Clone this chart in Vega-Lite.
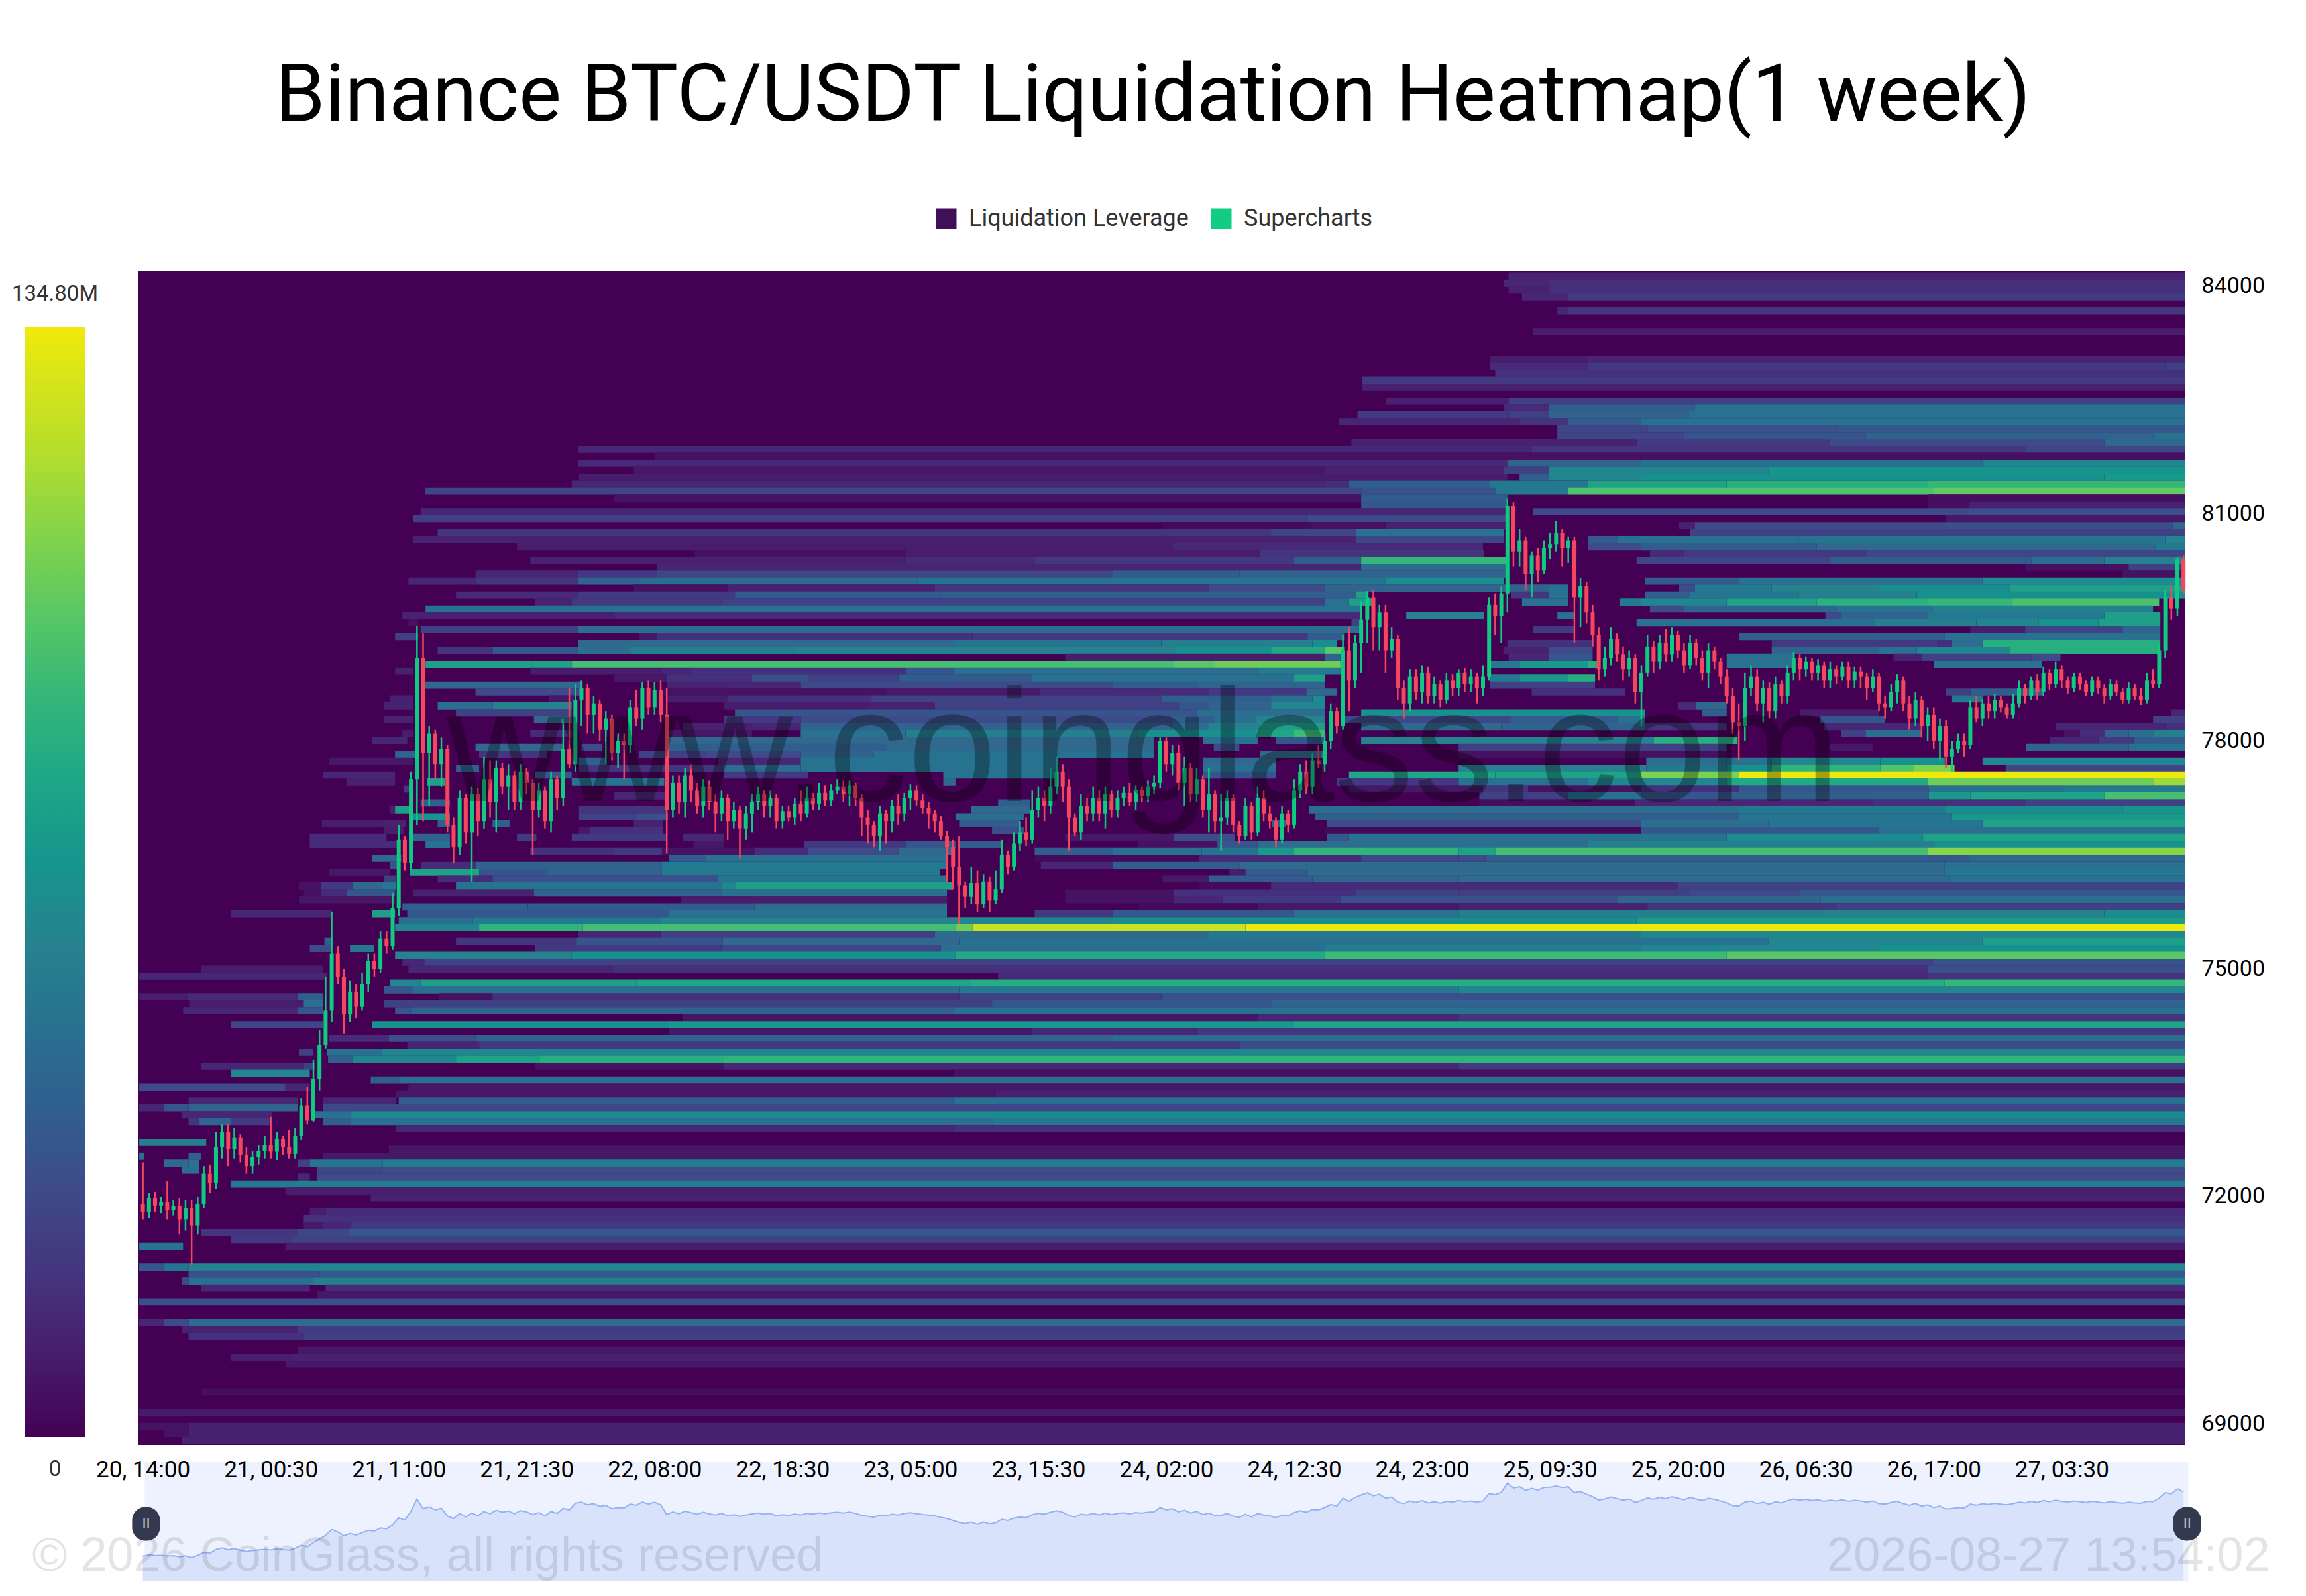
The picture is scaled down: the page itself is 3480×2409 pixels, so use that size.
{"$schema":"https://vega.github.io/schema/vega-lite/v5.json","background":"white","padding":{"left":38,"top":85,"right":0,"bottom":0},"title":{"text":"Binance BTC/USDT Liquidation Heatmap(1 week)","font":"Roboto","fontWeight":"normal","fontSize":121,"color":"#000","offset":105,"anchor":"middle","dx":8},"spacing":20,"config":{"view":{"stroke":null},"font":"Roboto"},
"datasets":{"candles":[
{"t":0,"o":71900,"h":72450,"l":71700,"c":71800},{"t":0.5,"o":71800,"h":72050,"l":71720,"c":71980},{"t":1,"o":71980,"h":72060,"l":71800,"c":71880},{"t":1.5,"o":71880,"h":72000,"l":71780,"c":71920},{"t":2,"o":71920,"h":72200,"l":71700,"c":71820},{"t":2.5,"o":71820,"h":71950,"l":71750,"c":71870},{"t":3,"o":71870,"h":71980,"l":71500,"c":71700},{"t":3.5,"o":71700,"h":71950,"l":71550,"c":71850},{"t":4,"o":71850,"h":71950,"l":71100,"c":71620},{"t":4.5,"o":71620,"h":72000,"l":71500,"c":71900},{"t":5,"o":71900,"h":72400,"l":71850,"c":72300},{"t":5.5,"o":72300,"h":72420,"l":72050,"c":72180},{"t":6,"o":72180,"h":72850,"l":72100,"c":72650},{"t":6.5,"o":72650,"h":72950,"l":72500,"c":72850},{"t":7,"o":72850,"h":72950,"l":72400,"c":72620},{"t":7.5,"o":72620,"h":72900,"l":72500,"c":72780},{"t":8,"o":72780,"h":72820,"l":72450,"c":72550},{"t":8.5,"o":72550,"h":72650,"l":72300,"c":72400},{"t":9,"o":72400,"h":72600,"l":72300,"c":72520},{"t":9.5,"o":72520,"h":72680,"l":72420,"c":72600},{"t":10,"o":72600,"h":72800,"l":72500,"c":72680},{"t":10.5,"o":72680,"h":73050,"l":72500,"c":72590},{"t":11,"o":72590,"h":72850,"l":72480,"c":72760},{"t":11.5,"o":72760,"h":72800,"l":72550,"c":72650},{"t":12,"o":72650,"h":72880,"l":72500,"c":72560},{"t":12.5,"o":72560,"h":72900,"l":72500,"c":72800},{"t":13,"o":72800,"h":73300,"l":72750,"c":73200},{"t":13.5,"o":73200,"h":73450,"l":72950,"c":73000},{"t":14,"o":73000,"h":73800,"l":72980,"c":73550},{"t":14.5,"o":73550,"h":74200,"l":73400,"c":74000},{"t":15,"o":74000,"h":74900,"l":73950,"c":74450},{"t":15.5,"o":74450,"h":75750,"l":74300,"c":75200},{"t":16,"o":75200,"h":75300,"l":74800,"c":74900},{"t":16.5,"o":74900,"h":75000,"l":74150,"c":74400},{"t":17,"o":74400,"h":74850,"l":74300,"c":74700},{"t":17.5,"o":74700,"h":74800,"l":74350,"c":74500},{"t":18,"o":74500,"h":74950,"l":74450,"c":74800},{"t":18.5,"o":74800,"h":75200,"l":74700,"c":75100},{"t":19,"o":75100,"h":75200,"l":74900,"c":75000},{"t":19.5,"o":75000,"h":75500,"l":74950,"c":75400},{"t":20,"o":75400,"h":75500,"l":75200,"c":75300},{"t":20.5,"o":75300,"h":76000,"l":75250,"c":75800},{"t":21,"o":75800,"h":76900,"l":75700,"c":76700},{"t":21.5,"o":76700,"h":76750,"l":76300,"c":76400},{"t":22,"o":76400,"h":77600,"l":76300,"c":77500},{"t":22.5,"o":77500,"h":79520,"l":76900,"c":79100},{"t":23,"o":79100,"h":79420,"l":76950,"c":77850},{"t":23.5,"o":77850,"h":78200,"l":77150,"c":78100},{"t":24,"o":78100,"h":78150,"l":77500,"c":77700},{"t":24.5,"o":77700,"h":78050,"l":77400,"c":77900},{"t":25,"o":77900,"h":77950,"l":76800,"c":76900},{"t":25.5,"o":76900,"h":77000,"l":76400,"c":76600},{"t":26,"o":76600,"h":77350,"l":76500,"c":77250},{"t":26.5,"o":77250,"h":77300,"l":76650,"c":76800},{"t":27,"o":76800,"h":77400,"l":76150,"c":77300},{"t":27.5,"o":77300,"h":77380,"l":76750,"c":76950},{"t":28,"o":76950,"h":77800,"l":76850,"c":77500},{"t":28.5,"o":77500,"h":77750,"l":77000,"c":77200},{"t":29,"o":77200,"h":77750,"l":76800,"c":77650},{"t":29.5,"o":77650,"h":77720,"l":77300,"c":77400},{"t":30,"o":77400,"h":77700,"l":77100,"c":77550},{"t":30.5,"o":77550,"h":77620,"l":77100,"c":77200},{"t":31,"o":77200,"h":77700,"l":77100,"c":77600},{"t":31.5,"o":77600,"h":77650,"l":77300,"c":77450},{"t":32,"o":77450,"h":77500,"l":76500,"c":77100},{"t":32.5,"o":77100,"h":77450,"l":77000,"c":77350},{"t":33,"o":77350,"h":77400,"l":76850,"c":76950},{"t":33.5,"o":76950,"h":77600,"l":76800,"c":77500},{"t":34,"o":77500,"h":77550,"l":77100,"c":77250},{"t":34.5,"o":77250,"h":78300,"l":77150,"c":77900},{"t":35,"o":77900,"h":78700,"l":77650,"c":77700},{"t":35.5,"o":77700,"h":78750,"l":77600,"c":78550},{"t":36,"o":78550,"h":78800,"l":78200,"c":78700},{"t":36.5,"o":78700,"h":78750,"l":78100,"c":78350},{"t":37,"o":78350,"h":78600,"l":78100,"c":78500},{"t":37.5,"o":78500,"h":78550,"l":78000,"c":78150},{"t":38,"o":78150,"h":78400,"l":77700,"c":78300},{"t":38.5,"o":78300,"h":78350,"l":77750,"c":77850},{"t":39,"o":77850,"h":78100,"l":77650,"c":78000},{"t":39.5,"o":78000,"h":78100,"l":77500,"c":77950},{"t":40,"o":77950,"h":78550,"l":77850,"c":78450},{"t":40.5,"o":78450,"h":78680,"l":78200,"c":78300},{"t":41,"o":78300,"h":78780,"l":78150,"c":78700},{"t":41.5,"o":78700,"h":78800,"l":78350,"c":78450},{"t":42,"o":78450,"h":78780,"l":78350,"c":78680},{"t":42.5,"o":78680,"h":78800,"l":78250,"c":78350},{"t":43,"o":78350,"h":78700,"l":76520,"c":77100},{"t":43.5,"o":77100,"h":77550,"l":77000,"c":77450},{"t":44,"o":77450,"h":77550,"l":77050,"c":77200},{"t":44.5,"o":77200,"h":77650,"l":77000,"c":77550},{"t":45,"o":77550,"h":77700,"l":77200,"c":77350},{"t":45.5,"o":77350,"h":77450,"l":77050,"c":77150},{"t":46,"o":77150,"h":77500,"l":77000,"c":77400},{"t":46.5,"o":77400,"h":77480,"l":77100,"c":77200},{"t":47,"o":77200,"h":77300,"l":76800,"c":77050},{"t":47.5,"o":77050,"h":77350,"l":76950,"c":77250},{"t":48,"o":77250,"h":77300,"l":76700,"c":76950},{"t":48.5,"o":76950,"h":77200,"l":76850,"c":77100},{"t":49,"o":77100,"h":77150,"l":76450,"c":76850},{"t":49.5,"o":76850,"h":77150,"l":76700,"c":77050},{"t":50,"o":77050,"h":77300,"l":76800,"c":77200},{"t":50.5,"o":77200,"h":77400,"l":77100,"c":77300},{"t":51,"o":77300,"h":77350,"l":77000,"c":77150},{"t":51.5,"o":77150,"h":77350,"l":77000,"c":77250},{"t":52,"o":77250,"h":77300,"l":76850,"c":76950},{"t":52.5,"o":76950,"h":77150,"l":76850,"c":77080},{"t":53,"o":77080,"h":77150,"l":76950,"c":77000},{"t":53.5,"o":77000,"h":77250,"l":76900,"c":77180},{"t":54,"o":77180,"h":77350,"l":76950,"c":77050},{"t":54.5,"o":77050,"h":77400,"l":77000,"c":77250},{"t":55,"o":77250,"h":77320,"l":77100,"c":77180},{"t":55.5,"o":77180,"h":77450,"l":77100,"c":77320},{"t":56,"o":77320,"h":77420,"l":77150,"c":77220},{"t":56.5,"o":77220,"h":77430,"l":77150,"c":77350},{"t":57,"o":77350,"h":77500,"l":77300,"c":77400},{"t":57.5,"o":77400,"h":77480,"l":77200,"c":77300},{"t":58,"o":77300,"h":77480,"l":77150,"c":77420},{"t":58.5,"o":77420,"h":77450,"l":77150,"c":77250},{"t":59,"o":77250,"h":77300,"l":76750,"c":77000},{"t":59.5,"o":77000,"h":77100,"l":76650,"c":76900},{"t":60,"o":76900,"h":76950,"l":76600,"c":76750},{"t":60.5,"o":76750,"h":77150,"l":76550,"c":77050},{"t":61,"o":77050,"h":77100,"l":76650,"c":76950},{"t":61.5,"o":76950,"h":77230,"l":76800,"c":77150},{"t":62,"o":77150,"h":77300,"l":76900,"c":77050},{"t":62.5,"o":77050,"h":77320,"l":76950,"c":77250},{"t":63,"o":77250,"h":77430,"l":77100,"c":77350},{"t":63.5,"o":77350,"h":77420,"l":77150,"c":77220},{"t":64,"o":77220,"h":77300,"l":77050,"c":77120},{"t":64.5,"o":77120,"h":77200,"l":76850,"c":77050},{"t":65,"o":77050,"h":77100,"l":76800,"c":76950},{"t":65.5,"o":76950,"h":77020,"l":76700,"c":76750},{"t":66,"o":76750,"h":76820,"l":76150,"c":76600},{"t":66.5,"o":76600,"h":76700,"l":76050,"c":76350},{"t":67,"o":76350,"h":76750,"l":75590,"c":76100},{"t":67.5,"o":76100,"h":76150,"l":75800,"c":75950},{"t":68,"o":75950,"h":76350,"l":75850,"c":76130},{"t":68.5,"o":76130,"h":76300,"l":75750,"c":75850},{"t":69,"o":75850,"h":76250,"l":75800,"c":76150},{"t":69.5,"o":76150,"h":76220,"l":75750,"c":75900},{"t":70,"o":75900,"h":76300,"l":75850,"c":76050},{"t":70.5,"o":76050,"h":76700,"l":76000,"c":76500},{"t":71,"o":76500,"h":76560,"l":76250,"c":76350},{"t":71.5,"o":76350,"h":76800,"l":76300,"c":76650},{"t":72,"o":76650,"h":76950,"l":76550,"c":76800},{"t":72.5,"o":76800,"h":77000,"l":76620,"c":76700},{"t":73,"o":76700,"h":77350,"l":76650,"c":77100},{"t":73.5,"o":77100,"h":77400,"l":77000,"c":77250},{"t":74,"o":77250,"h":77350,"l":76950,"c":77150},{"t":74.5,"o":77150,"h":77650,"l":77050,"c":77400},{"t":75,"o":77400,"h":77800,"l":77300,"c":77600},{"t":75.5,"o":77600,"h":77700,"l":77200,"c":77400},{"t":76,"o":77400,"h":77500,"l":76550,"c":77000},{"t":76.5,"o":77000,"h":77050,"l":76750,"c":76800},{"t":77,"o":76800,"h":77300,"l":76700,"c":77150},{"t":77.5,"o":77150,"h":77250,"l":76950,"c":77050},{"t":78,"o":77050,"h":77400,"l":76950,"c":77250},{"t":78.5,"o":77250,"h":77350,"l":76950,"c":77050},{"t":79,"o":77050,"h":77400,"l":76850,"c":77300},{"t":79.5,"o":77300,"h":77350,"l":77000,"c":77100},{"t":80,"o":77100,"h":77350,"l":77000,"c":77250},{"t":80.5,"o":77250,"h":77400,"l":77150,"c":77320},{"t":81,"o":77320,"h":77450,"l":77150,"c":77200},{"t":81.5,"o":77200,"h":77420,"l":77100,"c":77360},{"t":82,"o":77360,"h":77400,"l":77200,"c":77280},{"t":82.5,"o":77280,"h":77480,"l":77200,"c":77400},{"t":83,"o":77400,"h":77550,"l":77300,"c":77450},{"t":83.5,"o":77450,"h":78050,"l":77380,"c":78000},{"t":84,"o":78000,"h":78050,"l":77600,"c":77700},{"t":84.5,"o":77700,"h":77950,"l":77550,"c":77850},{"t":85,"o":77850,"h":77950,"l":77350,"c":77450},{"t":85.5,"o":77450,"h":77800,"l":77150,"c":77650},{"t":86,"o":77650,"h":77720,"l":77200,"c":77300},{"t":86.5,"o":77300,"h":77650,"l":77200,"c":77500},{"t":87,"o":77500,"h":77550,"l":77000,"c":77100},{"t":87.5,"o":77100,"h":77650,"l":76800,"c":77300},{"t":88,"o":77300,"h":77350,"l":76800,"c":76950},{"t":88.5,"o":76950,"h":77300,"l":76550,"c":77000},{"t":89,"o":77000,"h":77350,"l":76900,"c":77250},{"t":89.5,"o":77250,"h":77300,"l":76800,"c":76900},{"t":90,"o":76900,"h":76950,"l":76650,"c":76750},{"t":90.5,"o":76750,"h":77250,"l":76700,"c":77150},{"t":91,"o":77150,"h":77200,"l":76700,"c":76800},{"t":91.5,"o":76800,"h":77400,"l":76750,"c":77250},{"t":92,"o":77250,"h":77350,"l":76950,"c":77050},{"t":92.5,"o":77050,"h":77150,"l":76850,"c":76950},{"t":93,"o":76950,"h":77000,"l":76600,"c":76700},{"t":93.5,"o":76700,"h":77150,"l":76650,"c":77050},{"t":94,"o":77050,"h":77100,"l":76800,"c":76900},{"t":94.5,"o":76900,"h":77500,"l":76850,"c":77350},{"t":95,"o":77350,"h":77700,"l":77250,"c":77600},{"t":95.5,"o":77600,"h":77750,"l":77300,"c":77400},{"t":96,"o":77400,"h":77850,"l":77300,"c":77750},{"t":96.5,"o":77750,"h":77950,"l":77650,"c":77700},{"t":97,"o":77700,"h":78100,"l":77600,"c":78000},{"t":97.5,"o":78000,"h":78500,"l":77900,"c":78400},{"t":98,"o":78400,"h":78450,"l":78100,"c":78200},{"t":98.5,"o":78200,"h":79400,"l":78150,"c":79200},{"t":99,"o":79200,"h":79500,"l":78400,"c":78800},{"t":99.5,"o":78800,"h":79400,"l":78700,"c":79300},{"t":100,"o":79300,"h":79850,"l":78900,"c":79600},{"t":100.5,"o":79600,"h":79980,"l":79300,"c":79900},{"t":101,"o":79900,"h":80000,"l":79200,"c":79500},{"t":101.5,"o":79500,"h":79800,"l":79200,"c":79700},{"t":102,"o":79700,"h":79800,"l":78900,"c":79200},{"t":102.5,"o":79200,"h":79500,"l":79100,"c":79350},{"t":103,"o":79350,"h":79400,"l":78550,"c":78700},{"t":103.5,"o":78700,"h":78800,"l":78300,"c":78500},{"t":104,"o":78500,"h":78950,"l":78400,"c":78850},{"t":104.5,"o":78850,"h":78950,"l":78550,"c":78650},{"t":105,"o":78650,"h":79000,"l":78500,"c":78900},{"t":105.5,"o":78900,"h":78980,"l":78500,"c":78600},{"t":106,"o":78600,"h":78850,"l":78500,"c":78750},{"t":106.5,"o":78750,"h":78800,"l":78450,"c":78550},{"t":107,"o":78550,"h":78900,"l":78500,"c":78800},{"t":107.5,"o":78800,"h":78880,"l":78600,"c":78700},{"t":108,"o":78700,"h":78950,"l":78600,"c":78900},{"t":108.5,"o":78900,"h":78960,"l":78650,"c":78750},{"t":109,"o":78750,"h":78950,"l":78650,"c":78850},{"t":109.5,"o":78850,"h":78900,"l":78500,"c":78700},{"t":110,"o":78700,"h":79000,"l":78600,"c":78850},{"t":110.5,"o":78850,"h":79900,"l":78800,"c":79800},{"t":111,"o":79800,"h":79950,"l":79400,"c":79650},{"t":111.5,"o":79650,"h":80050,"l":79300,"c":79950},{"t":112,"o":79950,"h":81200,"l":79700,"c":81100},{"t":112.5,"o":81100,"h":81150,"l":80300,"c":80500},{"t":113,"o":80500,"h":80800,"l":80300,"c":80650},{"t":113.5,"o":80650,"h":80700,"l":80000,"c":80200},{"t":114,"o":80200,"h":80500,"l":79900,"c":80450},{"t":114.5,"o":80450,"h":80550,"l":80100,"c":80250},{"t":115,"o":80250,"h":80650,"l":80200,"c":80550},{"t":115.5,"o":80550,"h":80750,"l":80400,"c":80600},{"t":116,"o":80600,"h":80900,"l":80500,"c":80750},{"t":116.5,"o":80750,"h":80800,"l":80300,"c":80550},{"t":117,"o":80550,"h":80700,"l":80350,"c":80650},{"t":117.5,"o":80650,"h":80700,"l":79300,"c":79900},{"t":118,"o":79900,"h":80150,"l":79500,"c":80050},{"t":118.5,"o":80050,"h":80100,"l":79550,"c":79700},{"t":119,"o":79700,"h":79800,"l":79250,"c":79400},{"t":119.5,"o":79400,"h":79500,"l":78800,"c":78950},{"t":120,"o":78950,"h":79250,"l":78850,"c":79100},{"t":120.5,"o":79100,"h":79500,"l":79000,"c":79350},{"t":121,"o":79350,"h":79420,"l":79050,"c":79150},{"t":121.5,"o":79150,"h":79250,"l":78800,"c":78950},{"t":122,"o":78950,"h":79200,"l":78850,"c":79100},{"t":122.5,"o":79100,"h":79150,"l":78500,"c":78650},{"t":123,"o":78650,"h":79000,"l":78200,"c":78900},{"t":123.5,"o":78900,"h":79400,"l":78850,"c":79250},{"t":124,"o":79250,"h":79320,"l":78900,"c":79050},{"t":124.5,"o":79050,"h":79400,"l":78950,"c":79300},{"t":125,"o":79300,"h":79480,"l":79050,"c":79150},{"t":125.5,"o":79150,"h":79500,"l":79050,"c":79400},{"t":126,"o":79400,"h":79450,"l":79100,"c":79200},{"t":126.5,"o":79200,"h":79300,"l":78900,"c":79000},{"t":127,"o":79000,"h":79400,"l":78950,"c":79300},{"t":127.5,"o":79300,"h":79350,"l":79000,"c":79100},{"t":128,"o":79100,"h":79200,"l":78800,"c":78900},{"t":128.5,"o":78900,"h":79300,"l":78700,"c":79200},{"t":129,"o":79200,"h":79250,"l":78950,"c":79050},{"t":129.5,"o":79050,"h":79100,"l":78750,"c":78850},{"t":130,"o":78850,"h":78950,"l":78500,"c":78600},{"t":130.5,"o":78600,"h":78700,"l":78100,"c":78250},{"t":131,"o":78250,"h":78500,"l":77750,"c":78200},{"t":131.5,"o":78200,"h":78900,"l":78000,"c":78700},{"t":132,"o":78700,"h":79000,"l":78600,"c":78850},{"t":132.5,"o":78850,"h":78950,"l":78400,"c":78500},{"t":133,"o":78500,"h":78800,"l":78250,"c":78700},{"t":133.5,"o":78700,"h":78780,"l":78300,"c":78400},{"t":134,"o":78400,"h":78850,"l":78300,"c":78750},{"t":134.5,"o":78750,"h":78800,"l":78500,"c":78600},{"t":135,"o":78600,"h":79000,"l":78500,"c":78900},{"t":135.5,"o":78900,"h":79180,"l":78800,"c":79100},{"t":136,"o":79100,"h":79150,"l":78800,"c":78950},{"t":136.5,"o":78950,"h":79120,"l":78850,"c":79050},{"t":137,"o":79050,"h":79100,"l":78800,"c":78900},{"t":137.5,"o":78900,"h":79080,"l":78800,"c":79000},{"t":138,"o":79000,"h":79050,"l":78700,"c":78800},{"t":138.5,"o":78800,"h":79050,"l":78700,"c":78950},{"t":139,"o":78950,"h":79000,"l":78750,"c":78850},{"t":139.5,"o":78850,"h":79050,"l":78800,"c":78980},{"t":140,"o":78980,"h":79050,"l":78700,"c":78800},{"t":140.5,"o":78800,"h":78980,"l":78700,"c":78920},{"t":141,"o":78920,"h":78980,"l":78700,"c":78850},{"t":141.5,"o":78850,"h":78900,"l":78550,"c":78700},{"t":142,"o":78700,"h":78950,"l":78650,"c":78850},{"t":142.5,"o":78850,"h":78900,"l":78400,"c":78500},{"t":143,"o":78500,"h":78600,"l":78300,"c":78450},{"t":143.5,"o":78450,"h":78750,"l":78400,"c":78650},{"t":144,"o":78650,"h":78880,"l":78500,"c":78800},{"t":144.5,"o":78800,"h":78850,"l":78400,"c":78500},{"t":145,"o":78500,"h":78600,"l":78150,"c":78300},{"t":145.5,"o":78300,"h":78650,"l":78200,"c":78550},{"t":146,"o":78550,"h":78600,"l":78050,"c":78200},{"t":146.5,"o":78200,"h":78450,"l":78000,"c":78350},{"t":147,"o":78350,"h":78450,"l":77900,"c":78000},{"t":147.5,"o":78000,"h":78300,"l":77750,"c":78200},{"t":148,"o":78200,"h":78280,"l":77650,"c":77800},{"t":148.5,"o":77800,"h":78000,"l":77600,"c":77900},{"t":149,"o":77900,"h":78100,"l":77850,"c":78000},{"t":149.5,"o":78000,"h":78100,"l":77800,"c":77950},{"t":150,"o":77950,"h":78550,"l":77900,"c":78450},{"t":150.5,"o":78450,"h":78600,"l":78250,"c":78300},{"t":151,"o":78300,"h":78560,"l":78200,"c":78500},{"t":151.5,"o":78500,"h":78600,"l":78300,"c":78400},{"t":152,"o":78400,"h":78620,"l":78300,"c":78550},{"t":152.5,"o":78550,"h":78600,"l":78380,"c":78450},{"t":153,"o":78450,"h":78500,"l":78300,"c":78350},{"t":153.5,"o":78350,"h":78620,"l":78300,"c":78500},{"t":154,"o":78500,"h":78800,"l":78450,"c":78700},{"t":154.5,"o":78700,"h":78760,"l":78500,"c":78600},{"t":155,"o":78600,"h":78850,"l":78550,"c":78800},{"t":155.5,"o":78800,"h":78880,"l":78550,"c":78650},{"t":156,"o":78650,"h":78980,"l":78600,"c":78900},{"t":156.5,"o":78900,"h":78950,"l":78680,"c":78750},{"t":157,"o":78750,"h":79050,"l":78700,"c":78950},{"t":157.5,"o":78950,"h":79000,"l":78700,"c":78800},{"t":158,"o":78800,"h":78850,"l":78620,"c":78700},{"t":158.5,"o":78700,"h":78900,"l":78650,"c":78850},{"t":159,"o":78850,"h":78900,"l":78680,"c":78750},{"t":159.5,"o":78750,"h":78800,"l":78600,"c":78650},{"t":160,"o":78650,"h":78850,"l":78600,"c":78800},{"t":160.5,"o":78800,"h":78850,"l":78620,"c":78700},{"t":161,"o":78700,"h":78750,"l":78500,"c":78600},{"t":161.5,"o":78600,"h":78820,"l":78550,"c":78750},{"t":162,"o":78750,"h":78800,"l":78600,"c":78650},{"t":162.5,"o":78650,"h":78700,"l":78500,"c":78550},{"t":163,"o":78550,"h":78780,"l":78500,"c":78700},{"t":163.5,"o":78700,"h":78750,"l":78550,"c":78600},{"t":164,"o":78600,"h":78700,"l":78480,"c":78550},{"t":164.5,"o":78550,"h":78900,"l":78500,"c":78800},{"t":165,"o":78800,"h":78950,"l":78700,"c":78750},{"t":165.5,"o":78750,"h":79300,"l":78700,"c":79200},{"t":166,"o":79200,"h":80000,"l":79100,"c":79900},{"t":166.5,"o":79900,"h":80050,"l":79600,"c":79750},{"t":167,"o":79750,"h":80430,"l":79650,"c":80400},{"t":167.5,"o":80400,"h":80450,"l":79950,"c":80000}
]},
"vconcat":[{"width":3088,"height":1772,"view":{"fill":"#440154","stroke":null},"encoding":{"x":{"type":"quantitative","scale":{"domain":[-0.36,167.6],"nice":false,"zero":false},"axis":null},"y":{"type":"quantitative","scale":{"domain":[68725,84200],"nice":false,"zero":false},"axis":{"orient":"right","values":[69000,72000,75000,78000,81000,84000],"format":"d","title":null,"domain":false,"ticks":false,"grid":false,"labelFontSize":34,"labelColor":"#000","labelPadding":25,"labelFont":"Roboto"}}},
"layer":[
{"data":{"values":[
{"t0":112.1,"t1":167.6,"price":84131,"lev":12},{"t0":111.7,"t1":115.4,"price":84039,"lev":14},{"t0":115.4,"t1":167.6,"price":84039,"lev":18},{"t0":112.1,"t1":115.4,"price":83948,"lev":12},{"t0":115.4,"t1":167.6,"price":83948,"lev":18},{"t0":113.2,"t1":117,"price":83857,"lev":14},{"t0":117,"t1":167.6,"price":83857,"lev":22},{"t0":116.1,"t1":117,"price":83674,"lev":14},{"t0":117,"t1":167.6,"price":83674,"lev":20},{"t0":114.1,"t1":167.6,"price":83400,"lev":10},{"t0":110.6,"t1":118.6,"price":83035,"lev":10},{"t0":118.6,"t1":167.6,"price":83035,"lev":13},{"t0":110.6,"t1":118.6,"price":82943,"lev":16},{"t0":118.6,"t1":166,"price":82943,"lev":22},{"t0":166,"t1":167.6,"price":82943,"lev":25},{"t0":111,"t1":167.6,"price":82852,"lev":18},{"t0":100.1,"t1":167.6,"price":82760,"lev":22},{"t0":100.1,"t1":167.6,"price":82669,"lev":12},{"t0":102,"t1":112.1,"price":82486,"lev":12},{"t0":112.1,"t1":167.6,"price":82486,"lev":25},{"t0":111.7,"t1":115.4,"price":82395,"lev":16},{"t0":115.4,"t1":127.4,"price":82395,"lev":40},{"t0":127.4,"t1":167.6,"price":82395,"lev":50},{"t0":99.7,"t1":112.1,"price":82304,"lev":22},{"t0":112.1,"t1":115.4,"price":82304,"lev":25},{"t0":115.4,"t1":127,"price":82304,"lev":42},{"t0":127,"t1":167.6,"price":82304,"lev":50},{"t0":98.2,"t1":113,"price":82212,"lev":14},{"t0":113,"t1":117,"price":82212,"lev":20},{"t0":117,"t1":123,"price":82212,"lev":38},{"t0":123,"t1":167.6,"price":82212,"lev":50},{"t0":116.1,"t1":123.5,"price":82121,"lev":28},{"t0":123.5,"t1":139,"price":82121,"lev":32},{"t0":139,"t1":167.6,"price":82121,"lev":35},{"t0":116.1,"t1":126.5,"price":82030,"lev":28},{"t0":126.5,"t1":141.4,"price":82030,"lev":35},{"t0":141.4,"t1":165,"price":82030,"lev":42},{"t0":165,"t1":167.6,"price":82030,"lev":50},{"t0":99.2,"t1":122.6,"price":81938,"lev":12},{"t0":122.6,"t1":138.5,"price":81938,"lev":22},{"t0":138.5,"t1":161,"price":81938,"lev":30},{"t0":161,"t1":167.6,"price":81938,"lev":45},{"t0":35.7,"t1":114,"price":81847,"lev":14},{"t0":114,"t1":154.5,"price":81847,"lev":20},{"t0":154.5,"t1":167.6,"price":81847,"lev":28},{"t0":42,"t1":167.6,"price":81756,"lev":5},{"t0":35.7,"t1":112,"price":81664,"lev":15},{"t0":112,"t1":123,"price":81664,"lev":42},{"t0":123,"t1":151,"price":81664,"lev":50},{"t0":151,"t1":167.6,"price":81664,"lev":62},{"t0":40.3,"t1":97,"price":81573,"lev":8},{"t0":97,"t1":111.7,"price":81573,"lev":12},{"t0":111.7,"t1":115.4,"price":81573,"lev":25},{"t0":115.4,"t1":133.4,"price":81573,"lev":62},{"t0":133.4,"t1":167.6,"price":81573,"lev":70},{"t0":35.8,"t1":112,"price":81482,"lev":10},{"t0":113,"t1":115.4,"price":81482,"lev":40},{"t0":115.4,"t1":123,"price":81482,"lev":62},{"t0":123,"t1":161,"price":81482,"lev":68},{"t0":161,"t1":167.6,"price":81482,"lev":72},{"t0":35.2,"t1":97,"price":81390,"lev":14},{"t0":97,"t1":99,"price":81390,"lev":17},{"t0":99,"t1":110.6,"price":81390,"lev":40},{"t0":110.6,"t1":118.6,"price":81390,"lev":55},{"t0":118.6,"t1":130,"price":81390,"lev":78},{"t0":130,"t1":146.5,"price":81390,"lev":85},{"t0":146.5,"t1":167.6,"price":81390,"lev":90},{"t0":23.2,"t1":100,"price":81299,"lev":28},{"t0":100,"t1":111,"price":81299,"lev":33},{"t0":111,"t1":117,"price":81299,"lev":55},{"t0":117,"t1":147,"price":81299,"lev":97},{"t0":147,"t1":167.6,"price":81299,"lev":102},{"t0":38.7,"t1":100,"price":81208,"lev":6},{"t0":100,"t1":112,"price":81208,"lev":38},{"t0":146.5,"t1":167.6,"price":81208,"lev":4},{"t0":100,"t1":112,"price":81116,"lev":36},{"t0":146.5,"t1":149.9,"price":81116,"lev":4},{"t0":149.9,"t1":167.6,"price":81116,"lev":12},{"t0":22.8,"t1":112,"price":81025,"lev":14},{"t0":114.1,"t1":149.9,"price":81025,"lev":30},{"t0":149.9,"t1":167.6,"price":81025,"lev":32},{"t0":22.2,"t1":95.5,"price":80934,"lev":24},{"t0":95.5,"t1":112,"price":80934,"lev":30},{"t0":148,"t1":167.6,"price":80934,"lev":8},{"t0":83.7,"t1":95.9,"price":80842,"lev":3},{"t0":95.9,"t1":102,"price":80842,"lev":5},{"t0":102,"t1":112,"price":80842,"lev":12},{"t0":126.1,"t1":127.4,"price":80842,"lev":12},{"t0":127.4,"t1":148,"price":80842,"lev":30},{"t0":148,"t1":166.6,"price":80842,"lev":32},{"t0":166.6,"t1":167.6,"price":80842,"lev":45},{"t0":24.2,"t1":92.6,"price":80751,"lev":20},{"t0":92.6,"t1":99.6,"price":80751,"lev":28},{"t0":99.6,"t1":111.7,"price":80751,"lev":50},{"t0":127,"t1":167.6,"price":80751,"lev":25},{"t0":22.2,"t1":99.6,"price":80660,"lev":12},{"t0":99.6,"t1":111.7,"price":80660,"lev":28},{"t0":118.6,"t1":121,"price":80660,"lev":38},{"t0":121,"t1":135.9,"price":80660,"lev":50},{"t0":135.9,"t1":166,"price":80660,"lev":52},{"t0":166,"t1":167.6,"price":80660,"lev":60},{"t0":30.7,"t1":84.6,"price":80568,"lev":10},{"t0":84.6,"t1":110,"price":80568,"lev":15},{"t0":118.6,"t1":123,"price":80568,"lev":30},{"t0":123,"t1":137.4,"price":80568,"lev":38},{"t0":137.4,"t1":165.2,"price":80568,"lev":45},{"t0":165.2,"t1":167.6,"price":80568,"lev":55},{"t0":45.3,"t1":62.6,"price":80477,"lev":5},{"t0":62.6,"t1":91.7,"price":80477,"lev":10},{"t0":91.7,"t1":110.1,"price":80477,"lev":20},{"t0":123.7,"t1":126.5,"price":80477,"lev":15},{"t0":126.5,"t1":141.4,"price":80477,"lev":22},{"t0":141.4,"t1":167.6,"price":80477,"lev":28},{"t0":31.8,"t1":62.6,"price":80386,"lev":12},{"t0":62.6,"t1":73.2,"price":80386,"lev":16},{"t0":73.2,"t1":94.5,"price":80386,"lev":22},{"t0":94.5,"t1":100,"price":80386,"lev":40},{"t0":100,"t1":112,"price":80386,"lev":90},{"t0":122.6,"t1":138.5,"price":80386,"lev":28},{"t0":138.5,"t1":155,"price":80386,"lev":38},{"t0":155,"t1":161,"price":80386,"lev":48},{"t0":161,"t1":167.6,"price":80386,"lev":60},{"t0":42.2,"t1":100,"price":80294,"lev":13},{"t0":100,"t1":112,"price":80294,"lev":46},{"t0":154.5,"t1":163,"price":80294,"lev":5},{"t0":163,"t1":167.6,"price":80294,"lev":25},{"t0":27.3,"t1":35.7,"price":80203,"lev":14},{"t0":35.7,"t1":42.2,"price":80203,"lev":22},{"t0":42.2,"t1":79.6,"price":80203,"lev":28},{"t0":79.6,"t1":90,"price":80203,"lev":38},{"t0":90,"t1":112,"price":80203,"lev":42},{"t0":162.5,"t1":167.6,"price":80203,"lev":6},{"t0":21.8,"t1":27.3,"price":80112,"lev":14},{"t0":27.3,"t1":35.7,"price":80112,"lev":20},{"t0":35.7,"t1":40.7,"price":80112,"lev":42},{"t0":40.7,"t1":63.6,"price":80112,"lev":48},{"t0":63.6,"t1":102,"price":80112,"lev":52},{"t0":102,"t1":111.7,"price":80112,"lev":65},{"t0":123.3,"t1":131,"price":80112,"lev":38},{"t0":131,"t1":151,"price":80112,"lev":50},{"t0":151,"t1":167.6,"price":80112,"lev":65},{"t0":40.3,"t1":48,"price":80020,"lev":6},{"t0":48,"t1":65,"price":80020,"lev":12},{"t0":65,"t1":87.5,"price":80020,"lev":20},{"t0":87.5,"t1":97,"price":80020,"lev":30},{"t0":97,"t1":115.4,"price":80020,"lev":42},{"t0":115.4,"t1":117,"price":80020,"lev":50},{"t0":126.1,"t1":127.4,"price":80020,"lev":30},{"t0":127.4,"t1":133.7,"price":80020,"lev":55},{"t0":133.7,"t1":142.5,"price":80020,"lev":60},{"t0":142.5,"t1":153.2,"price":80020,"lev":65},{"t0":153.2,"t1":167.6,"price":80020,"lev":75},{"t0":25.7,"t1":35.7,"price":79929,"lev":16},{"t0":35.7,"t1":48.6,"price":79929,"lev":22},{"t0":48.6,"t1":65.5,"price":79929,"lev":38},{"t0":65.5,"t1":99.6,"price":79929,"lev":40},{"t0":99.6,"t1":100.6,"price":79929,"lev":75},{"t0":112.3,"t1":115.4,"price":79929,"lev":20},{"t0":115.4,"t1":117,"price":79929,"lev":50},{"t0":123.3,"t1":127,"price":79929,"lev":40},{"t0":127,"t1":135.9,"price":79929,"lev":52},{"t0":135.9,"t1":145.6,"price":79929,"lev":58},{"t0":145.6,"t1":167.6,"price":79929,"lev":68},{"t0":32.2,"t1":35.2,"price":79837,"lev":12},{"t0":35.2,"t1":47.5,"price":79837,"lev":22},{"t0":47.5,"t1":97,"price":79837,"lev":26},{"t0":97,"t1":99,"price":79837,"lev":50},{"t0":99,"t1":101,"price":79837,"lev":75},{"t0":113.2,"t1":117,"price":79837,"lev":50},{"t0":121.2,"t1":123,"price":79837,"lev":55},{"t0":123,"t1":130,"price":79837,"lev":62},{"t0":130,"t1":137.4,"price":79837,"lev":78},{"t0":137.4,"t1":146.5,"price":79837,"lev":86},{"t0":146.5,"t1":153.4,"price":79837,"lev":90},{"t0":153.4,"t1":165.5,"price":79837,"lev":96},{"t0":23.2,"t1":100,"price":79746,"lev":50},{"t0":123.7,"t1":126.5,"price":79746,"lev":30},{"t0":126.5,"t1":139,"price":79746,"lev":42},{"t0":139,"t1":147,"price":79746,"lev":50},{"t0":147,"t1":165,"price":79746,"lev":58},{"t0":21.3,"t1":38.7,"price":79655,"lev":12},{"t0":38.7,"t1":100,"price":79655,"lev":16},{"t0":103.7,"t1":110.1,"price":79655,"lev":60},{"t0":116.1,"t1":117.5,"price":79655,"lev":50},{"t0":138.1,"t1":139.4,"price":79655,"lev":30},{"t0":139.4,"t1":146.5,"price":79655,"lev":42},{"t0":146.5,"t1":161,"price":79655,"lev":55},{"t0":161,"t1":165.6,"price":79655,"lev":75},{"t0":21.8,"t1":22.6,"price":79563,"lev":5},{"t0":99.2,"t1":100,"price":79563,"lev":25},{"t0":122.6,"t1":142.1,"price":79563,"lev":50},{"t0":142.1,"t1":150.5,"price":79563,"lev":58},{"t0":150.5,"t1":155.6,"price":79563,"lev":62},{"t0":155.6,"t1":160.5,"price":79563,"lev":70},{"t0":160.5,"t1":165.6,"price":79563,"lev":75},{"t0":22.8,"t1":35.7,"price":79472,"lev":25},{"t0":35.7,"t1":100,"price":79472,"lev":48},{"t0":114.1,"t1":117.5,"price":79472,"lev":22},{"t0":150,"t1":154.5,"price":79472,"lev":10},{"t0":154.5,"t1":162.5,"price":79472,"lev":26},{"t0":162.5,"t1":165.6,"price":79472,"lev":42},{"t0":20.7,"t1":22.6,"price":79381,"lev":25},{"t0":40.7,"t1":42.2,"price":79381,"lev":8},{"t0":42.2,"t1":68.1,"price":79381,"lev":18},{"t0":68.1,"t1":95.6,"price":79381,"lev":22},{"t0":95.6,"t1":98.6,"price":79381,"lev":38},{"t0":131,"t1":147.9,"price":79381,"lev":40},{"t0":147.9,"t1":165.6,"price":79381,"lev":50},{"t0":35.7,"t1":66.6,"price":79289,"lev":45},{"t0":66.6,"t1":83.6,"price":79289,"lev":52},{"t0":83.6,"t1":96,"price":79289,"lev":58},{"t0":96,"t1":98,"price":79289,"lev":65},{"t0":112,"t1":119,"price":79289,"lev":18},{"t0":133.7,"t1":147.4,"price":79289,"lev":22},{"t0":147.4,"t1":148.5,"price":79289,"lev":18},{"t0":148.5,"t1":151,"price":79289,"lev":48},{"t0":151,"t1":165.6,"price":79289,"lev":85},{"t0":24.2,"t1":28.7,"price":79198,"lev":20},{"t0":28.7,"t1":35.7,"price":79198,"lev":36},{"t0":35.7,"t1":40,"price":79198,"lev":48},{"t0":40,"t1":53.6,"price":79198,"lev":58},{"t0":53.6,"t1":84.8,"price":79198,"lev":60},{"t0":84.8,"t1":92.6,"price":79198,"lev":68},{"t0":92.6,"t1":97,"price":79198,"lev":82},{"t0":97,"t1":98.6,"price":79198,"lev":100},{"t0":111.7,"t1":115.4,"price":79198,"lev":12},{"t0":115.4,"t1":119,"price":79198,"lev":30},{"t0":133.7,"t1":142.5,"price":79198,"lev":42},{"t0":142.5,"t1":145.6,"price":79198,"lev":50},{"t0":145.6,"t1":153.2,"price":79198,"lev":62},{"t0":153.2,"t1":165.6,"price":79198,"lev":85},{"t0":75.7,"t1":97,"price":79107,"lev":10},{"t0":97,"t1":98.3,"price":79107,"lev":42},{"t0":112.1,"t1":115.4,"price":79107,"lev":14},{"t0":115.4,"t1":119,"price":79107,"lev":35},{"t0":130,"t1":135.6,"price":79107,"lev":50},{"t0":143.7,"t1":146,"price":79107,"lev":12},{"t0":146,"t1":155,"price":79107,"lev":25},{"t0":155,"t1":157.4,"price":79107,"lev":30},{"t0":23.2,"t1":32,"price":79015,"lev":75},{"t0":32,"t1":35.2,"price":79015,"lev":78},{"t0":35.2,"t1":84.6,"price":79015,"lev":95},{"t0":84.6,"t1":88,"price":79015,"lev":100},{"t0":88,"t1":98.3,"price":79015,"lev":105},{"t0":110.6,"t1":113,"price":79015,"lev":55},{"t0":113,"t1":118.6,"price":79015,"lev":72},{"t0":118.6,"t1":119.4,"price":79015,"lev":85},{"t0":130,"t1":135.6,"price":79015,"lev":50},{"t0":147,"t1":155.9,"price":79015,"lev":50},
{"t0":20.7,"t1":22.2,"price":78924,"lev":12},{"t0":31.8,"t1":42.6,"price":78924,"lev":10},{"t0":42.6,"t1":45,"price":78924,"lev":14},{"t0":45,"t1":62.6,"price":78924,"lev":18},{"t0":62.6,"t1":66.6,"price":78924,"lev":35},{"t0":66.6,"t1":91.5,"price":78924,"lev":48},{"t0":91.5,"t1":98.3,"price":78924,"lev":55},{"t0":38.7,"t1":43,"price":78833,"lev":8},{"t0":43,"t1":50,"price":78833,"lev":18},{"t0":50,"t1":54.6,"price":78833,"lev":32},{"t0":54.6,"t1":62,"price":78833,"lev":26},{"t0":62,"t1":73,"price":78833,"lev":38},{"t0":73,"t1":94.5,"price":78833,"lev":50},{"t0":94.5,"t1":97,"price":78833,"lev":75},{"t0":110.6,"t1":113,"price":78833,"lev":55},{"t0":113,"t1":117,"price":78833,"lev":72},{"t0":117,"t1":119.2,"price":78833,"lev":85},{"t0":23.1,"t1":36.1,"price":78741,"lev":45},{"t0":43,"t1":48,"price":78741,"lev":12},{"t0":48,"t1":54,"price":78741,"lev":14},{"t0":54,"t1":79.6,"price":78741,"lev":30},{"t0":79.6,"t1":86.5,"price":78741,"lev":38},{"t0":86.5,"t1":97,"price":78741,"lev":42},{"t0":110.6,"t1":119.2,"price":78741,"lev":25},{"t0":27.3,"t1":36.1,"price":78650,"lev":30},{"t0":42.8,"t1":61,"price":78650,"lev":6},{"t0":61,"t1":73.6,"price":78650,"lev":9},{"t0":73.6,"t1":87.5,"price":78650,"lev":16},{"t0":87.5,"t1":95.5,"price":78650,"lev":22},{"t0":95.5,"t1":98,"price":78650,"lev":45},{"t0":114,"t1":121.7,"price":78650,"lev":18},{"t0":148,"t1":150,"price":78650,"lev":25},{"t0":150,"t1":156,"price":78650,"lev":38},{"t0":20.3,"t1":22.2,"price":78559,"lev":12},{"t0":33.3,"t1":35.4,"price":78559,"lev":8},{"t0":43,"t1":48,"price":78559,"lev":10},{"t0":48,"t1":59.8,"price":78559,"lev":18},{"t0":59.8,"t1":83.6,"price":78559,"lev":26},{"t0":83.6,"t1":92.6,"price":78559,"lev":40},{"t0":92.6,"t1":96,"price":78559,"lev":50},{"t0":96,"t1":97,"price":78559,"lev":65},{"t0":148.5,"t1":151,"price":78559,"lev":55},{"t0":19.8,"t1":22.2,"price":78467,"lev":12},{"t0":24.2,"t1":28.7,"price":78467,"lev":48},{"t0":28.7,"t1":35.2,"price":78467,"lev":60},{"t0":47.7,"t1":59.6,"price":78467,"lev":10},{"t0":59.6,"t1":65,"price":78467,"lev":12},{"t0":65,"t1":85,"price":78467,"lev":25},{"t0":85,"t1":87.5,"price":78467,"lev":35},{"t0":87.5,"t1":92.6,"price":78467,"lev":42},{"t0":92.6,"t1":97,"price":78467,"lev":62},{"t0":126,"t1":127.5,"price":78467,"lev":15},{"t0":127.5,"t1":130,"price":78467,"lev":45},{"t0":25.7,"t1":35.2,"price":78376,"lev":25},{"t0":48.6,"t1":86.5,"price":78376,"lev":35},{"t0":86.5,"t1":97,"price":78376,"lev":48},{"t0":100,"t1":123.3,"price":78376,"lev":68},{"t0":128,"t1":130,"price":78376,"lev":40},{"t0":136,"t1":142.5,"price":78376,"lev":10},{"t0":166.5,"t1":167.6,"price":78376,"lev":14},{"t0":19.8,"t1":22.2,"price":78285,"lev":12},{"t0":32.1,"t1":35.2,"price":78285,"lev":45},{"t0":47.7,"t1":54,"price":78285,"lev":22},{"t0":54,"t1":84.4,"price":78285,"lev":30},{"t0":84.4,"t1":88,"price":78285,"lev":40},{"t0":88,"t1":91.4,"price":78285,"lev":50},{"t0":91.4,"t1":97,"price":78285,"lev":60},{"t0":98.3,"t1":112.3,"price":78285,"lev":29},{"t0":112.3,"t1":121,"price":78285,"lev":38},{"t0":121,"t1":123.3,"price":78285,"lev":50},{"t0":137.7,"t1":143,"price":78285,"lev":35},{"t0":165,"t1":167.6,"price":78285,"lev":25},{"t0":44.3,"t1":50,"price":78193,"lev":12},{"t0":50,"t1":54,"price":78193,"lev":14},{"t0":54,"t1":84.4,"price":78193,"lev":42},{"t0":84.4,"t1":87.5,"price":78193,"lev":48},{"t0":87.5,"t1":91.7,"price":78193,"lev":60},{"t0":91.7,"t1":97,"price":78193,"lev":75},{"t0":100,"t1":111.5,"price":78193,"lev":45},{"t0":111.5,"t1":123.3,"price":78193,"lev":42},{"t0":123.3,"t1":130,"price":78193,"lev":20},{"t0":138,"t1":146,"price":78193,"lev":14},{"t0":157,"t1":166,"price":78193,"lev":14},{"t0":166,"t1":167.6,"price":78193,"lev":18},{"t0":21.3,"t1":22.2,"price":78102,"lev":10},{"t0":31.8,"t1":35.2,"price":78102,"lev":16},{"t0":43.2,"t1":50,"price":78102,"lev":8},{"t0":54,"t1":62.6,"price":78102,"lev":50},{"t0":62.6,"t1":81.7,"price":78102,"lev":58},{"t0":81.7,"t1":91.4,"price":78102,"lev":68},{"t0":91.4,"t1":94.5,"price":78102,"lev":80},{"t0":94.5,"t1":97,"price":78102,"lev":92},{"t0":139.4,"t1":141.4,"price":78102,"lev":25},{"t0":141.4,"t1":146,"price":78102,"lev":48},{"t0":157.7,"t1":159,"price":78102,"lev":6},{"t0":159,"t1":161,"price":78102,"lev":16},{"t0":161,"t1":163,"price":78102,"lev":42},{"t0":163,"t1":165,"price":78102,"lev":48},{"t0":165,"t1":167.6,"price":78102,"lev":58},{"t0":18.8,"t1":21.7,"price":78011,"lev":14},{"t0":43.2,"t1":83,"price":78011,"lev":45},{"t0":87,"t1":91.5,"price":78011,"lev":50},{"t0":93,"t1":97,"price":78011,"lev":35},{"t0":100,"t1":124,"price":78011,"lev":60},{"t0":124,"t1":130.9,"price":78011,"lev":85},{"t0":156.5,"t1":160.5,"price":78011,"lev":14},{"t0":160.5,"t1":163.4,"price":78011,"lev":22},{"t0":163.4,"t1":167.6,"price":78011,"lev":38},{"t0":27.3,"t1":34.5,"price":77919,"lev":45},{"t0":36,"t1":37.7,"price":77919,"lev":30},{"t0":43.2,"t1":61,"price":77919,"lev":40},{"t0":61,"t1":83,"price":77919,"lev":45},{"t0":87.9,"t1":90,"price":77919,"lev":30},{"t0":108,"t1":130,"price":77919,"lev":25},{"t0":138.5,"t1":142,"price":77919,"lev":8},{"t0":154.6,"t1":163,"price":77919,"lev":42},{"t0":163,"t1":167.6,"price":77919,"lev":50},{"t0":20.7,"t1":22.7,"price":77828,"lev":42},{"t0":27.6,"t1":33.2,"price":77828,"lev":20},{"t0":40.7,"t1":46.2,"price":77828,"lev":25},{"t0":46.2,"t1":54,"price":77828,"lev":30},{"t0":54,"t1":60,"price":77828,"lev":42},{"t0":60,"t1":83,"price":77828,"lev":50},{"t0":91.7,"t1":97,"price":77828,"lev":45},{"t0":108,"t1":130,"price":77828,"lev":5},{"t0":15.3,"t1":22.2,"price":77737,"lev":8},{"t0":35.8,"t1":38,"price":77737,"lev":40},{"t0":47.2,"t1":54,"price":77737,"lev":14},{"t0":54,"t1":75,"price":77737,"lev":52},{"t0":87,"t1":93,"price":77737,"lev":45},{"t0":123.4,"t1":130,"price":77737,"lev":48},{"t0":130,"t1":133.7,"price":77737,"lev":50},{"t0":133.7,"t1":142.6,"price":77737,"lev":62},{"t0":142.6,"t1":147.9,"price":77737,"lev":68},{"t0":151,"t1":167.6,"price":77737,"lev":62},{"t0":25.7,"t1":27.6,"price":77645,"lev":40},{"t0":35.8,"t1":47.7,"price":77645,"lev":20},{"t0":47.7,"t1":54,"price":77645,"lev":48},{"t0":54,"t1":75,"price":77645,"lev":50},{"t0":87,"t1":93,"price":77645,"lev":50},{"t0":108,"t1":123.4,"price":77645,"lev":60},{"t0":123.4,"t1":130,"price":77645,"lev":55},{"t0":130,"t1":133.7,"price":77645,"lev":68},{"t0":133.7,"t1":142.6,"price":77645,"lev":88},{"t0":142.6,"t1":145.4,"price":77645,"lev":98},{"t0":145.4,"t1":148.7,"price":77645,"lev":108},{"t0":152.9,"t1":167.6,"price":77645,"lev":28},{"t0":14.8,"t1":20.7,"price":77554,"lev":14},{"t0":32.2,"t1":35.2,"price":77554,"lev":35},{"t0":47.7,"t1":54.6,"price":77554,"lev":22},{"t0":65.7,"t1":75,"price":77554,"lev":52},{"t0":87,"t1":93,"price":77554,"lev":35},{"t0":99,"t1":111,"price":77554,"lev":80},{"t0":111,"t1":123,"price":77554,"lev":78},{"t0":123,"t1":131,"price":77554,"lev":108},{"t0":131,"t1":167.6,"price":77554,"lev":134},{"t0":16.7,"t1":20.7,"price":77463,"lev":12},{"t0":23.3,"t1":24.8,"price":77463,"lev":75},{"t0":35.2,"t1":42.8,"price":77463,"lev":50},{"t0":65.7,"t1":66.7,"price":77463,"lev":45},{"t0":98,"t1":108,"price":77463,"lev":22},{"t0":108,"t1":118.6,"price":77463,"lev":50},{"t0":118.6,"t1":130,"price":77463,"lev":62},{"t0":130,"t1":146.5,"price":77463,"lev":82},{"t0":146.5,"t1":165,"price":77463,"lev":105},{"t0":165,"t1":167.6,"price":77463,"lev":115},{"t0":21.4,"t1":22.2,"price":77371,"lev":20},{"t0":99,"t1":110,"price":77371,"lev":8},{"t0":110,"t1":113.7,"price":77371,"lev":20},{"t0":113.7,"t1":123,"price":77371,"lev":6},{"t0":123,"t1":131,"price":77371,"lev":18},{"t0":131,"t1":146.6,"price":77371,"lev":35},{"t0":146.6,"t1":157.6,"price":77371,"lev":50},{"t0":157.6,"t1":167.6,"price":77371,"lev":55},{"t0":38.7,"t1":42.9,"price":77280,"lev":14},{"t0":109.7,"t1":117,"price":77280,"lev":25},{"t0":117,"t1":123,"price":77280,"lev":50},{"t0":123,"t1":130.3,"price":77280,"lev":35},{"t0":130.3,"t1":146.6,"price":77280,"lev":40},{"t0":146.6,"t1":150,"price":77280,"lev":72},{"t0":150,"t1":161,"price":77280,"lev":80},{"t0":161,"t1":167.6,"price":77280,"lev":95},{"t0":22.8,"t1":25.2,"price":77189,"lev":40},{"t0":70.2,"t1":72.8,"price":77189,"lev":40},{"t0":109.7,"t1":122.5,"price":77189,"lev":4},{"t0":122.5,"t1":142,"price":77189,"lev":14},{"t0":142,"t1":154.5,"price":77189,"lev":18},{"t0":154.5,"t1":167.6,"price":77189,"lev":25},{"t0":20.3,"t1":20.7,"price":77097,"lev":12},{"t0":20.7,"t1":22.1,"price":77097,"lev":75},{"t0":35.8,"t1":43,"price":77097,"lev":20},{"t0":68,"t1":72.8,"price":77097,"lev":45},{"t0":95.7,"t1":131,"price":77097,"lev":48},{"t0":131,"t1":148,"price":77097,"lev":55},{"t0":148,"t1":162.5,"price":77097,"lev":65},{"t0":162.5,"t1":167.6,"price":77097,"lev":70},{"t0":22.2,"t1":25.2,"price":77006,"lev":70},{"t0":35.8,"t1":40.6,"price":77006,"lev":26},{"t0":40.6,"t1":43.1,"price":77006,"lev":32},{"t0":66.7,"t1":72.3,"price":77006,"lev":48},{"t0":96.2,"t1":131,"price":77006,"lev":40},{"t0":131,"t1":148.5,"price":77006,"lev":52},{"t0":148.5,"t1":167.6,"price":77006,"lev":72},{"t0":14.7,"t1":19.6,"price":76915,"lev":10},{"t0":19.6,"t1":21.6,"price":76915,"lev":12},{"t0":24.2,"t1":25.2,"price":76915,"lev":40},{"t0":28.7,"t1":30.1,"price":76915,"lev":40},{"t0":40.3,"t1":42.7,"price":76915,"lev":12},{"t0":67,"t1":72,"price":76915,"lev":38},{"t0":92.7,"t1":93.8,"price":76915,"lev":40},{"t0":97.2,"t1":123,"price":76915,"lev":30},{"t0":123,"t1":133.4,"price":76915,"lev":48},{"t0":133.4,"t1":151,"price":76915,"lev":52},{"t0":151,"t1":167.6,"price":76915,"lev":78},{"t0":19.8,"t1":21.4,"price":76823,"lev":10},{"t0":35.8,"t1":36.7,"price":76823,"lev":8},{"t0":36.7,"t1":42.7,"price":76823,"lev":18},{"t0":69.7,"t1":72.3,"price":76823,"lev":32},{"t0":97,"t1":123,"price":76823,"lev":3},{"t0":123,"t1":142.5,"price":76823,"lev":35},{"t0":142.5,"t1":167.6,"price":76823,"lev":48},{"t0":13.7,"t1":20,"price":76732,"lev":16},{"t0":22.2,"t1":25.2,"price":76732,"lev":42},{"t0":30.7,"t1":32.3,"price":76732,"lev":22},{"t0":35.2,"t1":43,"price":76732,"lev":22},{"t0":44.3,"t1":47.7,"price":76732,"lev":14},{"t0":75.7,"t1":84.6,"price":76732,"lev":8},{"t0":84.6,"t1":89.6,"price":76732,"lev":30},{"t0":97.2,"t1":99,"price":76732,"lev":36},{"t0":99,"t1":118.6,"price":76732,"lev":50},{"t0":118.6,"t1":130,"price":76732,"lev":52},{"t0":130,"t1":146.1,"price":76732,"lev":65},{"t0":146.1,"t1":167.6,"price":76732,"lev":78},{"t0":13.7,"t1":21,"price":76640,"lev":16},{"t0":23.2,"t1":25.2,"price":76640,"lev":50},{"t0":45.2,"t1":47.7,"price":76640,"lev":8},{"t0":54.3,"t1":62.6,"price":76640,"lev":22},{"t0":62.6,"t1":66.7,"price":76640,"lev":35},{"t0":66.9,"t1":70.6,"price":76640,"lev":38},{"t0":81.7,"t1":88.2,"price":76640,"lev":5},{"t0":88.2,"t1":91.5,"price":76640,"lev":35},{"t0":91.5,"t1":118.6,"price":76640,"lev":48},{"t0":118.6,"t1":147,"price":76640,"lev":58},{"t0":147,"t1":167.6,"price":76640,"lev":68},{"t0":31.8,"t1":38.7,"price":76549,"lev":18},{"t0":38.7,"t1":42.6,"price":76549,"lev":22},{"t0":42.6,"t1":50.2,"price":76549,"lev":6},{"t0":50.2,"t1":54.6,"price":76549,"lev":16},{"t0":54.6,"t1":62,"price":76549,"lev":30},{"t0":62,"t1":66.4,"price":76549,"lev":45},{"t0":73.2,"t1":79.6,"price":76549,"lev":40},{"t0":79.6,"t1":86.9,"price":76549,"lev":48},{"t0":86.9,"t1":91.5,"price":76549,"lev":52},{"t0":91.5,"t1":94.5,"price":76549,"lev":72},{"t0":94.5,"t1":108,"price":76549,"lev":88},{"t0":108,"t1":111,"price":76549,"lev":78},{"t0":111,"t1":146.5,"price":76549,"lev":95},{"t0":146.5,"t1":167.6,"price":76549,"lev":110},{"t0":18.8,"t1":21.2,"price":76458,"lev":45},{"t0":43.2,"t1":46.2,"price":76458,"lev":38},{"t0":46.2,"t1":66,"price":76458,"lev":50},{"t0":73.2,"t1":86.7,"price":76458,"lev":3},{"t0":86.7,"t1":100,"price":76458,"lev":15},{"t0":100,"t1":108,"price":76458,"lev":28},{"t0":108,"t1":110.2,"price":76458,"lev":30},{"t0":110.2,"t1":146.5,"price":76458,"lev":38},{"t0":146.5,"t1":149.9,"price":76458,"lev":36},{"t0":149.9,"t1":167.6,"price":76458,"lev":44},{"t0":20.3,"t1":21,"price":76366,"lev":35},{"t0":22.8,"t1":27.3,"price":76366,"lev":16},{"t0":27.3,"t1":42.6,"price":76366,"lev":42},{"t0":42.6,"t1":66,"price":76366,"lev":55},{"t0":73.7,"t1":79.6,"price":76366,"lev":14},{"t0":79.6,"t1":90,"price":76366,"lev":40},{"t0":90,"t1":147.9,"price":76366,"lev":46},{"t0":147.9,"t1":167.6,"price":76366,"lev":50},{"t0":15.3,"t1":20.3,"price":76275,"lev":8},{"t0":21.9,"t1":27.6,"price":76275,"lev":78},{"t0":27.6,"t1":33.2,"price":76275,"lev":35},{"t0":33.2,"t1":42.6,"price":76275,"lev":42},{"t0":42.6,"t1":65.4,"price":76275,"lev":55},{"t0":89.2,"t1":90.5,"price":76275,"lev":10},{"t0":90.5,"t1":95.5,"price":76275,"lev":38},{"t0":95.5,"t1":147.9,"price":76275,"lev":46},{"t0":147.9,"t1":167.6,"price":76275,"lev":54},{"t0":19.8,"t1":20.8,"price":76184,"lev":25},{"t0":24.2,"t1":28.7,"price":76184,"lev":16},{"t0":28.7,"t1":47.2,"price":76184,"lev":32},{"t0":47.2,"t1":66,"price":76184,"lev":52},{"t0":83.7,"t1":87.5,"price":76184,"lev":8},{"t0":87.5,"t1":96,"price":76184,"lev":38},{"t0":96,"t1":108,"price":76184,"lev":44},{"t0":108,"t1":148.3,"price":76184,"lev":46},{"t0":148.3,"t1":167.6,"price":76184,"lev":50},{"t0":12.8,"t1":14.6,"price":76092,"lev":6},{"t0":14.6,"t1":17.2,"price":76092,"lev":22},{"t0":17.2,"t1":19.6,"price":76092,"lev":45},{"t0":19.6,"t1":20.8,"price":76092,"lev":55},{"t0":25.7,"t1":47.5,"price":76092,"lev":52},{"t0":47.5,"t1":48.6,"price":76092,"lev":62},{"t0":48.6,"t1":66.5,"price":76092,"lev":75},{"t0":86.7,"t1":92.6,"price":76092,"lev":3},{"t0":92.6,"t1":126,"price":76092,"lev":16},{"t0":126,"t1":167.6,"price":76092,"lev":26},{"t0":13.2,"t1":14.6,"price":76001,"lev":5},{"t0":14.6,"t1":16.7,"price":76001,"lev":16},{"t0":16.7,"t1":20.7,"price":76001,"lev":35},{"t0":22.2,"t1":32.1,"price":76001,"lev":12},{"t0":32.1,"t1":47.5,"price":76001,"lev":42},{"t0":47.5,"t1":66,"price":76001,"lev":50},{"t0":75.7,"t1":84.6,"price":76001,"lev":6},{"t0":84.6,"t1":99.6,"price":76001,"lev":18},{"t0":99.6,"t1":108,"price":76001,"lev":26},{"t0":108,"t1":127,"price":76001,"lev":25},{"t0":127,"t1":136,"price":76001,"lev":30},{"t0":136,"t1":167.6,"price":76001,"lev":36},{"t0":12.8,"t1":20.7,"price":75910,"lev":7},{"t0":44.2,"t1":66,"price":75910,"lev":10},{"t0":75.7,"t1":84.6,"price":75910,"lev":6},{"t0":84.6,"t1":88.6,"price":75910,"lev":14},{"t0":88.6,"t1":98.3,"price":75910,"lev":22},{"t0":98.3,"t1":121,"price":75910,"lev":32},{"t0":121,"t1":137.7,"price":75910,"lev":44},{"t0":137.7,"t1":167.6,"price":75910,"lev":48},{"t0":21.3,"t1":31.6,"price":75818,"lev":40},{"t0":31.6,"t1":50.2,"price":75818,"lev":38},{"t0":50.2,"t1":66,"price":75818,"lev":47},{"t0":81.7,"t1":91.5,"price":75818,"lev":3},{"t0":91.5,"t1":108,"price":75818,"lev":8},{"t0":108,"t1":123.5,"price":75818,"lev":12},{"t0":123.5,"t1":139,"price":75818,"lev":20},{"t0":139,"t1":167.6,"price":75818,"lev":25},{"t0":7.2,"t1":15.5,"price":75727,"lev":14},{"t0":18.8,"t1":20.7,"price":75727,"lev":75},{"t0":21.7,"t1":43.2,"price":75727,"lev":36},{"t0":43.2,"t1":66,"price":75727,"lev":50},{"t0":73.2,"t1":79.6,"price":75727,"lev":22},{"t0":79.6,"t1":94.5,"price":75727,"lev":36},{"t0":94.5,"t1":108,"price":75727,"lev":50},{"t0":108,"t1":138,"price":75727,"lev":58},{"t0":138,"t1":161,"price":75727,"lev":60},{"t0":161,"t1":167.6,"price":75727,"lev":66},{"t0":21,"t1":27.1,"price":75636,"lev":48},{"t0":27.1,"t1":42.5,"price":75636,"lev":55},{"t0":42.5,"t1":67,"price":75636,"lev":60},{"t0":67,"t1":79.6,"price":75636,"lev":62},{"t0":79.6,"t1":122.6,"price":75636,"lev":66},{"t0":122.6,"t1":167.6,"price":75636,"lev":74},{"t0":20.7,"t1":27.6,"price":75544,"lev":62},{"t0":27.6,"t1":36.1,"price":75544,"lev":88},{"t0":36.1,"t1":66.7,"price":75544,"lev":94},{"t0":66.7,"t1":68.1,"price":75544,"lev":105},{"t0":68.1,"t1":90.5,"price":75544,"lev":125},{"t0":90.5,"t1":167.6,"price":75544,"lev":134},{"t0":35.7,"t1":42.5,"price":75453,"lev":14},{"t0":42.5,"t1":65,"price":75453,"lev":24},{"t0":65,"t1":87.5,"price":75453,"lev":46},{"t0":87.5,"t1":123,"price":75453,"lev":54},{"t0":123,"t1":167.6,"price":75453,"lev":62},{"t0":14.9,"t1":15.6,"price":75362,"lev":40},{"t0":25.7,"t1":35.6,"price":75362,"lev":20},{"t0":35.6,"t1":47.6,"price":75362,"lev":34},{"t0":47.6,"t1":67,"price":75362,"lev":45},{"t0":67,"t1":133.4,"price":75362,"lev":50},{"t0":133.4,"t1":151,"price":75362,"lev":62},{"t0":151,"t1":167.6,"price":75362,"lev":75},{"t0":13.7,"t1":15.5,"price":75270,"lev":30},{"t0":17,"t1":19,"price":75270,"lev":55},{"t0":32.2,"t1":47.5,"price":75270,"lev":22},{"t0":47.5,"t1":65.5,"price":75270,"lev":28},{"t0":65.5,"t1":97,"price":75270,"lev":48},{"t0":97,"t1":123,"price":75270,"lev":56},{"t0":123,"t1":142.5,"price":75270,"lev":62},{"t0":142.5,"t1":167.6,"price":75270,"lev":68},{"t0":20.7,"t1":35.2,"price":75179,"lev":60},{"t0":35.2,"t1":66.7,"price":75179,"lev":68},{"t0":66.7,"t1":97,"price":75179,"lev":82},{"t0":97,"t1":130,"price":75179,"lev":92},{"t0":130,"t1":167.6,"price":75179,"lev":100},{"t0":21.3,"t1":23.1,"price":75088,"lev":14},{"t0":23.1,"t1":147,"price":75088,"lev":26},{"t0":147,"t1":167.6,"price":75088,"lev":34},{"t0":4.8,"t1":14.8,"price":74996,"lev":10},{"t0":21.8,"t1":38.6,"price":74996,"lev":14},{"t0":38.6,"t1":146.5,"price":74996,"lev":18},{"t0":146.5,"t1":167.6,"price":74996,"lev":32},{"t0":-0.3,"t1":15.1,"price":74905,"lev":14},{"t0":70.2,"t1":146.5,"price":74905,"lev":16},{"t0":146.5,"t1":167.6,"price":74905,"lev":20},{"t0":20.3,"t1":22.8,"price":74814,"lev":62},{"t0":22.8,"t1":40.5,"price":74814,"lev":76},{"t0":40.5,"t1":68,"price":74814,"lev":80},{"t0":68,"t1":147.9,"price":74814,"lev":84},{"t0":147.9,"t1":167.6,"price":74814,"lev":90},{"t0":19.8,"t1":22.2,"price":74722,"lev":36},{"t0":22.2,"t1":67,"price":74722,"lev":48},{"t0":67,"t1":108,"price":74722,"lev":54},{"t0":108,"t1":167.6,"price":74722,"lev":62},{"t0":-0.3,"t1":3.7,"price":74631,"lev":10},{"t0":3.7,"t1":12.7,"price":74631,"lev":15},{"t0":12.7,"t1":14.8,"price":74631,"lev":40},{"t0":24.3,"t1":28.7,"price":74631,"lev":6},{"t0":28.7,"t1":67,"price":74631,"lev":18},{"t0":67,"t1":83.6,"price":74631,"lev":26},{"t0":83.6,"t1":167.6,"price":74631,"lev":32},{"t0":3.8,"t1":13.2,"price":74540,"lev":10},{"t0":13.2,"t1":14.8,"price":74540,"lev":48},{"t0":19.8,"t1":69.7,"price":74540,"lev":25},{"t0":69.7,"t1":92.6,"price":74540,"lev":36},{"t0":92.6,"t1":167.6,"price":74540,"lev":42},{"t0":3.3,"t1":12.7,"price":74448,"lev":14},{"t0":12.7,"t1":14.8,"price":74448,"lev":35},{"t0":20.7,"t1":22.1,"price":74448,"lev":35},{"t0":22.1,"t1":66.6,"price":74448,"lev":42},{"t0":66.6,"t1":167.6,"price":74448,"lev":50},{"t0":44.3,"t1":91.5,"price":74357,"lev":7},{"t0":91.5,"t1":108,"price":74357,"lev":14},{"t0":108,"t1":167.6,"price":74357,"lev":20},{"t0":7.2,"t1":14.8,"price":74266,"lev":28},{"t0":18.8,"t1":43.2,"price":74266,"lev":68},{"t0":43.2,"t1":94.5,"price":74266,"lev":72},{"t0":94.5,"t1":167.6,"price":74266,"lev":80},{"t0":43.2,"t1":73,"price":74174,"lev":8},{"t0":73,"t1":86.5,"price":74174,"lev":14},{"t0":86.5,"t1":167.6,"price":74174,"lev":20},{"t0":15.3,"t1":20.2,"price":74083,"lev":16},{"t0":20.2,"t1":27.3,"price":74083,"lev":32},{"t0":27.3,"t1":79.6,"price":74083,"lev":42},{"t0":79.6,"t1":167.6,"price":74083,"lev":48},{"t0":21.7,"t1":27.6,"price":73992,"lev":14},{"t0":27.6,"t1":90,"price":73992,"lev":22},{"t0":90,"t1":167.6,"price":73992,"lev":31},{"t0":12.8,"t1":14,"price":73900,"lev":25},{"t0":15.1,"t1":19.6,"price":73900,"lev":50},{"t0":19.6,"t1":167.6,"price":73900,"lev":63},{"t0":15.2,"t1":17.2,"price":73809,"lev":40},{"t0":17.2,"t1":25.7,"price":73809,"lev":62},{"t0":25.7,"t1":32.6,"price":73809,"lev":78},{"t0":32.6,"t1":47.7,"price":73809,"lev":85},{"t0":47.7,"t1":167.6,"price":73809,"lev":88},{"t0":4.8,"t1":13.2,"price":73717,"lev":14},{"t0":13.2,"t1":14.1,"price":73717,"lev":25},{"t0":32.2,"t1":47.7,"price":73717,"lev":6},{"t0":47.7,"t1":108,"price":73717,"lev":14},{"t0":108,"t1":167.6,"price":73717,"lev":22},{"t0":7.2,"t1":13.7,"price":73626,"lev":62},{"t0":66.6,"t1":167.6,"price":73626,"lev":5},{"t0":18.7,"t1":21,"price":73535,"lev":40},{"t0":21,"t1":167.6,"price":73535,"lev":48},{"t0":-0.3,"t1":11.7,"price":73443,"lev":30},{"t0":11.7,"t1":13.7,"price":73443,"lev":14},{"t0":21.8,"t1":167.6,"price":73443,"lev":8},{"t0":20.8,"t1":70,"price":73352,"lev":8},{"t0":70,"t1":167.6,"price":73352,"lev":12},{"t0":3.75,"t1":12.7,"price":73261,"lev":14},{"t0":14.8,"t1":20.8,"price":73261,"lev":14},{"t0":21,"t1":66.6,"price":73261,"lev":38},{"t0":66.6,"t1":167.6,"price":73261,"lev":50},{"t0":-0.3,"t1":1.7,"price":73169,"lev":14},{"t0":1.7,"t1":3.75,"price":73169,"lev":35},{"t0":3.75,"t1":12.7,"price":73169,"lev":42},{"t0":14.8,"t1":167.6,"price":73169,"lev":29},{"t0":3.2,"t1":10.6,"price":73078,"lev":14},{"t0":14,"t1":17.1,"price":73078,"lev":50},{"t0":17.1,"t1":167.6,"price":73078,"lev":64},{"t0":3.75,"t1":4.6,"price":72987,"lev":20},{"t0":4.6,"t1":7.2,"price":72987,"lev":42},{"t0":7.2,"t1":10.4,"price":72987,"lev":22},{"t0":14.8,"t1":17,"price":72987,"lev":40},{"t0":17,"t1":69.7,"price":72987,"lev":50},{"t0":69.7,"t1":167.6,"price":72987,"lev":54},{"t0":20.8,"t1":66.6,"price":72895,"lev":14},{"t0":66.6,"t1":167.6,"price":72895,"lev":18},{"t0":-0.3,"t1":5.2,"price":72713,"lev":58},{"t0":20.2,"t1":167.6,"price":72621,"lev":8},{"t0":-0.3,"t1":0.1,"price":72530,"lev":50},{"t0":3.75,"t1":4.8,"price":72530,"lev":40},{"t0":14.8,"t1":167.6,"price":72530,"lev":8},{"t0":1.7,"t1":3.75,"price":72439,"lev":45},{"t0":3.75,"t1":4.6,"price":72439,"lev":50},{"t0":12.7,"t1":13.7,"price":72439,"lev":25},{"t0":13.7,"t1":19.7,"price":72439,"lev":52},{"t0":19.7,"t1":167.6,"price":72439,"lev":56},{"t0":3.2,"t1":4.6,"price":72347,"lev":48},{"t0":14.3,"t1":19.6,"price":72347,"lev":28},{"t0":19.6,"t1":167.6,"price":72347,"lev":30},{"t0":12.7,"t1":13.7,"price":72256,"lev":14},{"t0":14.3,"t1":167.6,"price":72256,"lev":30},{"t0":7.2,"t1":12.2,"price":72165,"lev":55},{"t0":12.2,"t1":167.6,"price":72165,"lev":56},{"t0":11.7,"t1":167.6,"price":72073,"lev":10},{"t0":18.7,"t1":167.6,"price":71982,"lev":12},{"t0":13.7,"t1":15,"price":71799,"lev":10},{"t0":15,"t1":167.6,"price":71799,"lev":16},{"t0":13.2,"t1":167.6,"price":71708,"lev":18},{"t0":13.2,"t1":14.8,"price":71617,"lev":8},{"t0":14.8,"t1":17.1,"price":71617,"lev":14},{"t0":17.1,"t1":167.6,"price":71617,"lev":22},{"t0":4.8,"t1":12.7,"price":71525,"lev":20},{"t0":12.7,"t1":16.9,"price":71525,"lev":28},{"t0":16.9,"t1":167.6,"price":71525,"lev":36},{"t0":7.2,"t1":12.2,"price":71434,"lev":22},{"t0":12.2,"t1":167.6,"price":71434,"lev":26},{"t0":-0.3,"t1":3.3,"price":71343,"lev":52},{"t0":11.7,"t1":167.6,"price":71343,"lev":10},{"t0":-0.3,"t1":1.7,"price":71069,"lev":36},{"t0":1.7,"t1":3.75,"price":71069,"lev":52},{"t0":3.75,"t1":167.6,"price":71069,"lev":62},{"t0":3.75,"t1":14.5,"price":70977,"lev":32},{"t0":14.5,"t1":167.6,"price":70977,"lev":36},{"t0":3.2,"t1":3.75,"price":70886,"lev":30},{"t0":3.75,"t1":14,"price":70886,"lev":50},{"t0":14,"t1":167.6,"price":70886,"lev":58},{"t0":4.8,"t1":13.7,"price":70794,"lev":14},{"t0":15,"t1":167.6,"price":70794,"lev":16},{"t0":14.3,"t1":167.6,"price":70703,"lev":8},{"t0":-0.3,"t1":167.6,"price":70612,"lev":32},{"t0":-0.3,"t1":1.7,"price":70338,"lev":14},{"t0":1.7,"t1":3.75,"price":70338,"lev":30},{"t0":3.75,"t1":167.6,"price":70338,"lev":46},{"t0":3.2,"t1":12.7,"price":70246,"lev":12},{"t0":12.7,"t1":167.6,"price":70246,"lev":22},{"t0":3.75,"t1":13.2,"price":70155,"lev":18},{"t0":13.2,"t1":167.6,"price":70155,"lev":25},{"t0":12.7,"t1":167.6,"price":69972,"lev":8},{"t0":7.2,"t1":12.2,"price":69881,"lev":11},{"t0":12.2,"t1":167.6,"price":69881,"lev":12},{"t0":11.7,"t1":167.6,"price":69790,"lev":8},{"t0":4.8,"t1":167.6,"price":69424,"lev":4},{"t0":-0.3,"t1":167.6,"price":69150,"lev":9},{"t0":-0.3,"t1":3.75,"price":68968,"lev":6},{"t0":3.75,"t1":167.6,"price":68968,"lev":12},{"t0":1.7,"t1":3.75,"price":68876,"lev":6},{"t0":3.75,"t1":167.6,"price":68876,"lev":12},{"t0":3.2,"t1":167.6,"price":68785,"lev":12}
]},"mark":{"type":"rect","height":10.7,"clip":true},"encoding":{"x":{"field":"t0"},"x2":{"field":"t1"},"y":{"field":"price"},"fill":{"field":"lev","type":"quantitative","scale":{"domain":[0,134.8],"range":["#440154","#482878","#3e4a89","#31688e","#26828e","#1f9e89","#35b779","#6ece58","#b5de2b","#f1e90a"]},"legend":{"orient":"none","legendX":-171,"legendY":85,"title":null,"gradientLength":1675,"gradientThickness":90,"values":[0,134.8],"labelExpr":"datum.value == 0 ? '0' : '134.80M'","labelFontSize":33,"labelColor":"#333","labelFont":"Roboto","labelOffset":-45,"encode":{"labels":{"update":{"align":{"value":"center"},"dy":{"signal":"datum.value > 0 ? -66 : 66"}}}}}}}},
{"data":{"name":"candles"},"mark":{"type":"rule","strokeWidth":2.5},"encoding":{"x":{"field":"t"},"y":{"field":"l"},"y2":{"field":"h"},"color":{"condition":{"test":"datum.c >= datum.o","value":"#0ecb81"},"value":"#f6465d"}}},
{"data":{"name":"candles"},"mark":{"type":"rule","strokeWidth":6},"encoding":{"x":{"field":"t"},"y":{"field":"o"},"y2":{"field":"c"},"color":{"condition":{"test":"datum.c >= datum.o","value":"#0ecb81"},"value":"#f6465d"}}},
{"data":{"values":[{"t":82.1,"price":77214,"label":"www.coinglass.com"}]},"mark":{"type":"text","font":"Liberation Sans","fontSize":241,"align":"center","baseline":"alphabetic","color":"#000","opacity":0.3},"encoding":{"x":{"field":"t"},"y":{"field":"price"},"text":{"field":"label"}}},
{"data":{"values":[{"name":"Liquidation Leverage"},{"name":"Supercharts"}]},"mark":{"type":"point","filled":true,"opacity":0},"encoding":{"color":{"field":"name","type":"nominal","scale":{"domain":["Liquidation Leverage","Supercharts"],"range":["#3f0f57","#10cd82"]},"legend":{"orient":"none","legendX":1201,"legendY":-97,"direction":"horizontal","columns":2,"title":null,"symbolType":"square","symbolSize":961,"symbolOpacity":1,"labelFontSize":36,"labelColor":"#333","labelFont":"Roboto","labelLimit":600,"columnPadding":31,"labelOffset":16}}}}
]},
{"width":3088,"height":180,"view":{"stroke":null},"encoding":{"x":{"type":"quantitative","scale":{"domain":[-0.36,167.6],"nice":false,"zero":false},"axis":{"orient":"top","values":[0,10.5,21,31.5,42,52.5,63,73.5,84,94.5,105,115.5,126,136.5,147,157.5],"labelExpr":"timeFormat(datetime(2026,7,20,14,datum.value*60),'%d, %H:%M')","title":null,"domain":false,"ticks":false,"grid":false,"labelFontSize":35,"labelColor":"#000","labelFont":"Roboto","labelBaseline":"middle","labelPadding":0,"offset":-11,"zindex":1,"labelOverlap":false,"labelFlush":false}},"y":{"type":"quantitative","scale":{"domain":[68570,83790],"nice":false,"zero":false},"axis":null}},
"layer":[
{"data":{"values":[{"t0":0.15,"t1":167.9,"lo":68570,"hi":83790}]},"mark":{"type":"rect","color":"#eef2fe"},"encoding":{"x":{"field":"t0"},"x2":{"field":"t1"},"y":{"field":"lo"},"y2":{"field":"hi"}}},
{"data":{"name":"candles"},"mark":{"type":"area","color":"#d8e2fb","opacity":1,"clip":true,"line":{"color":"#93b2f6","strokeWidth":2}},"encoding":{"x":{"field":"t"},"y":{"field":"c"}}},
{"data":{"values":[{"t":-9.09,"price":69923,"label":"© 2026 CoinGlass, all rights reserved"}]},"mark":{"type":"text","font":"Liberation Sans","fontSize":72,"align":"left","baseline":"alphabetic","color":"#000","opacity":0.1},"encoding":{"x":{"field":"t"},"y":{"field":"price"},"text":{"field":"label"}}},
{"data":{"values":[{"t":174.6,"price":69923,"label":"2026-08-27 13:54:02"}]},"mark":{"type":"text","font":"Liberation Sans","fontSize":72,"align":"right","baseline":"alphabetic","color":"#000","opacity":0.1},"encoding":{"x":{"field":"t"},"y":{"field":"price"},"text":{"field":"label"}}},
{"data":{"values":[{"t":0.26,"price":75926},{"t":167.8,"price":75926}]},"mark":{"type":"rect","width":42,"height":51,"cornerRadius":20,"color":"#333a4f"},"encoding":{"x":{"field":"t"},"y":{"field":"price"}}},
{"data":{"values":[{"t":0.26,"price":75926,"label":"II"},{"t":167.8,"price":75926,"label":"II"}]},"mark":{"type":"text","fontSize":22,"color":"#c5c8d2","align":"center","baseline":"middle"},"encoding":{"x":{"field":"t"},"y":{"field":"price"},"text":{"field":"label"}}}
]}]}
